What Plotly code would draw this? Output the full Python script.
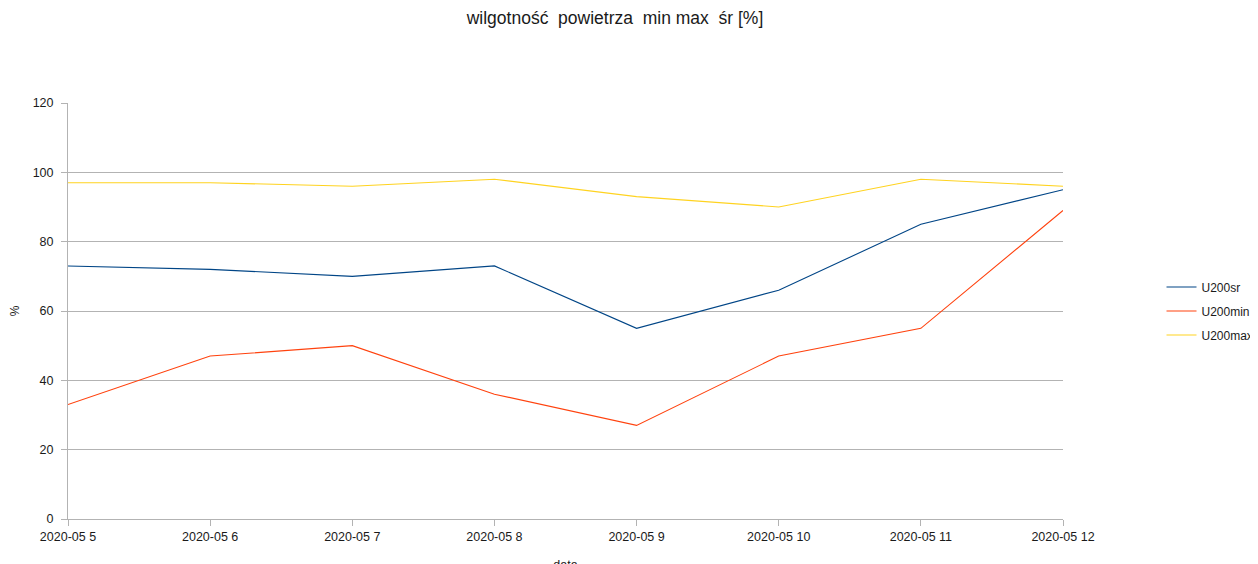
import plotly.graph_objects as go

dates = ["2020-05 5", "2020-05 6", "2020-05 7", "2020-05 8",
         "2020-05 9", "2020-05 10", "2020-05 11", "2020-05 12"]
u200sr = [73, 72, 70, 73, 55, 66, 85, 95]
u200min = [33, 47, 50, 36, 27, 47, 55, 89]
u200max = [97, 97, 96, 98, 93, 90, 98, 96]
y_ticks = [0, 20, 40, 60, 80, 100, 120]

FONT = "Liberation Sans, Arial, sans-serif"
series = [("U200sr", u200sr, "#004586"),
          ("U200min", u200min, "#ff420e"),
          ("U200max", u200max, "#ffd320")]

fig = go.Figure()
for name, vals, col in series:
    fig.add_trace(go.Scatter(x=dates, y=vals, name=name, mode="lines",
                             line=dict(color=col, width=1.1),
                             legendgroup=name))

fig.update_layout(
    width=1258, height=564,
    margin=dict(l=60, r=203, t=95, b=53, autoexpand=False),
    paper_bgcolor="white", plot_bgcolor="white",
    font=dict(family=FONT, size=12, color="#1a1a1a"),
    title=dict(text="wilgotność  powietrza  min max  śr [%]", x=0.4825, xref="container",
               xanchor="center", y=0.982, yanchor="middle",
               font=dict(size=17.5, color="#1a1a1a")),
    showlegend=True,
    legend=dict(x=1.099, xanchor="left", y=0.5, yanchor="middle",
                font=dict(size=12, color="#1a1a1a"), traceorder="grouped",
                tracegroupgap=5, itemwidth=30),
    xaxis=dict(type="category", range=[0, len(dates) - 1], showgrid=False,
               showline=True, linecolor="#b3b3b3", linewidth=1,
               ticks="outside", ticklen=6, tickcolor="#b3b3b3",
               tickfont=dict(size=12.5), automargin=False,
               title=dict(text="data", standoff=18, font=dict(size=12.5))),
    yaxis=dict(range=[0, 120], tickvals=y_ticks, showgrid=True,
               gridcolor="#b3b3b3", gridwidth=1,
               showline=True, linecolor="#b3b3b3", linewidth=1,
               ticks="outside", ticklen=6, tickcolor="#b3b3b3",
               tickfont=dict(size=12.5), automargin=False, zeroline=False,
               ticklabelstandoff=5,
               title=dict(text="%", standoff=21, font=dict(size=12))),
)

fig.write_html("out.html")
